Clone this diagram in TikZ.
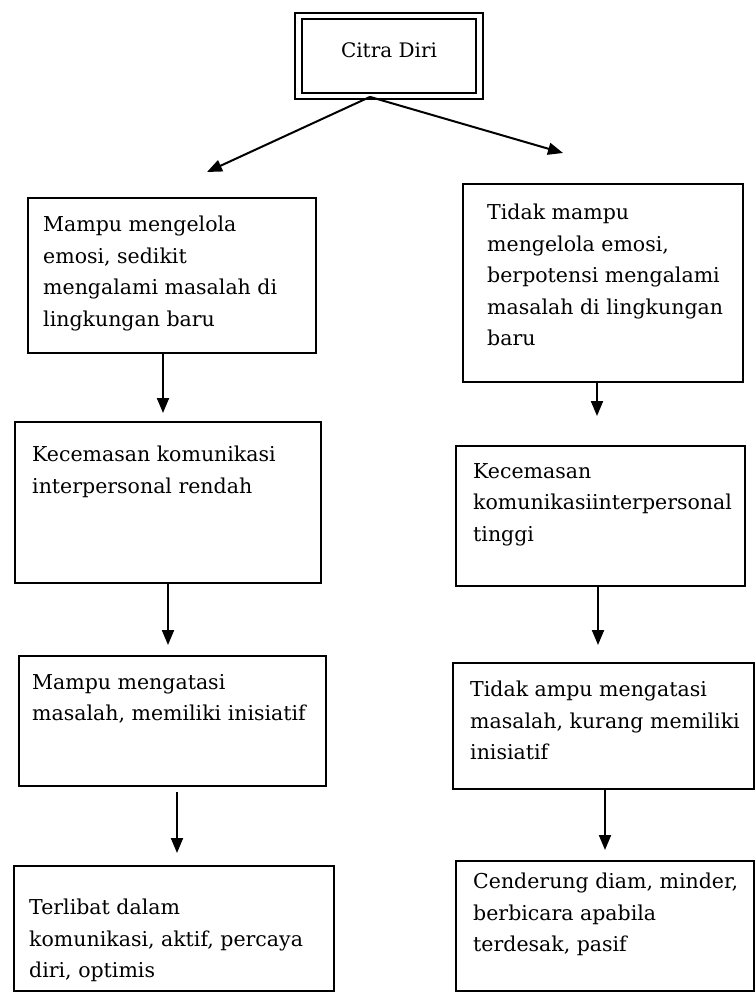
\documentclass[tikz,border=0pt]{standalone}
\usepackage{fontspec}
\setmainfont{DejaVu Serif}
\usetikzlibrary{arrows.meta}
\begin{document}
\begin{tikzpicture}[x=1pt,y=-1pt,
  boxst/.style={draw, line width=1.9pt, rectangle, inner sep=0pt, anchor=north west},
  txt/.style={anchor=north west, align=left, inner sep=0pt, font=\fontsize{20.5}{31.5}\selectfont},
  arr/.style={line width=2pt, -{Triangle[length=15pt,width=12pt]}}]
\useasboundingbox (0,0) rectangle (755,998);
% top box
\node[draw, line width=1.8pt, double, double distance=4.5pt, minimum width=181pt, minimum height=80pt,
  inner sep=0pt, text depth=12pt, font=\fontsize{20}{24}\selectfont] (top) at (389,56) {Citra Diri};
% boxes
\node[boxst, minimum width=288pt, minimum height=155pt] (L1) at (27,197) {};
\node[boxst, minimum width=280pt, minimum height=198pt] (R1) at (462,183) {};
\node[boxst, minimum width=306pt, minimum height=161pt] (L2) at (14,421) {};
\node[boxst, minimum width=289pt, minimum height=140pt] (R2) at (455,445) {};
\node[boxst, minimum width=307pt, minimum height=130pt] (L3) at (18,655) {};
\node[boxst, minimum width=301pt, minimum height=126pt] (R3) at (452,662) {};
\node[boxst, minimum width=320pt, minimum height=125pt] (L4) at (13,865) {};
\node[boxst, minimum width=298pt, minimum height=130pt] (R4) at (455,860) {};
% texts
\node[txt] (tL1) at (43,216) {Mampu mengelola\\emosi, sedikit\\mengalami masalah di\\lingkungan baru};
\node[txt] (tR1) at (487,204) {Tidak mampu\\mengelola emosi,\\berpotensi mengalami\\masalah di lingkungan\\baru};
\node[txt] (tL2) at (32,446) {Kecemasan komunikasi\\interpersonal rendah};
\node[txt] (tR2) at (473,463) {Kecemasan\\komunikasiinterpersonal\\tinggi};
\node[txt] (tL3) at (32,674) {Mampu mengatasi\\masalah, memiliki inisiatif};
\node[txt] (tR3) at (470,681) {Tidak ampu mengatasi\\masalah, kurang memiliki\\inisiatif};
\node[txt] (tL4) at (29,899) {Terlibat dalam\\komunikasi, aktif, percaya\\diri, optimis};
\node[txt] (tR4) at (473,873) {Cenderung diam, minder,\\berbicara apabila\\terdesak, pasif};
% arrow end points
\coordinate (apex) at (370,100);
\coordinate (eTL) at (207,172);
\coordinate (eTR) at (563,153);
\coordinate (eL1) at (163,413);
\coordinate (eR1) at (597,416);
\coordinate (eL2) at (168,645);
\coordinate (eR2) at (598,645);
\coordinate (eL3) at (177,853);
\coordinate (eR3) at (605,850);
% connectors
\draw[arr] (top.south -| apex) -- (eTL);
\draw[arr] (top.south -| apex) -- (eTR);
\draw[arr] (L1.south -| eL1) -- (eL1);
\draw[arr] (R1.south -| eR1) -- (eR1);
\draw[arr] (L2.south -| eL2) -- (eL2);
\draw[arr] (R2.south -| eR2) -- (eR2);
\draw[arr, shorten <=5pt] (L3.south -| eL3) -- (eL3);
\draw[arr] (R3.south -| eR3) -- (eR3);
\end{tikzpicture}
\end{document}
